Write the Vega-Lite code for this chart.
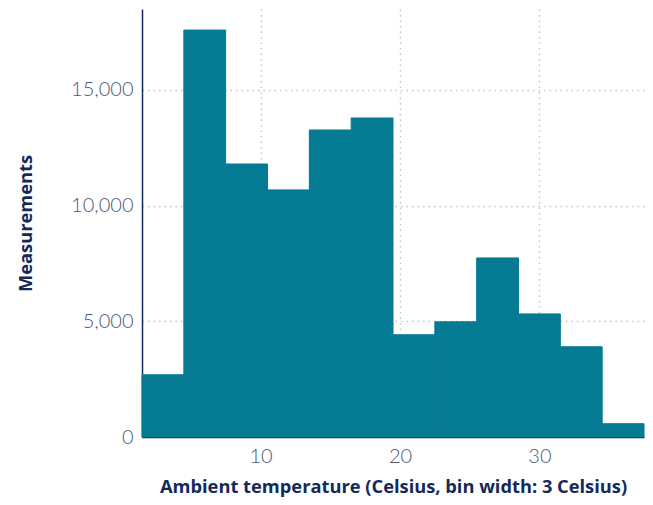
{
  "$schema": "https://vega.github.io/schema/vega-lite/v6.json",
  "width": 502,
  "height": 428,
  "autosize": {"type": "none"},
  "padding": {"left": 142, "top": 9, "right": 9, "bottom": 68},
  "background": "white",
  "data": {
    "values": [
      {"bin_start": 1.5, "bin_end": 4.5, "count": 2690},
      {"bin_start": 4.5, "bin_end": 7.5, "count": 17590},
      {"bin_start": 7.5, "bin_end": 10.5, "count": 11800},
      {"bin_start": 10.5, "bin_end": 13.5, "count": 10680},
      {"bin_start": 13.5, "bin_end": 16.5, "count": 13270},
      {"bin_start": 16.5, "bin_end": 19.5, "count": 13790},
      {"bin_start": 19.5, "bin_end": 22.5, "count": 4420},
      {"bin_start": 22.5, "bin_end": 25.5, "count": 4980},
      {"bin_start": 25.5, "bin_end": 28.5, "count": 7740},
      {"bin_start": 28.5, "bin_end": 31.5, "count": 5320},
      {"bin_start": 31.5, "bin_end": 34.5, "count": 3900},
      {"bin_start": 34.5, "bin_end": 37.5, "count": 575}
    ]
  },
  "mark": {"type": "rect", "color": "#057b93", "stroke": "#057b93", "strokeWidth": 1},
  "encoding": {
    "x": {
      "field": "bin_start",
      "type": "quantitative",
      "scale": {"domain": [1.5, 37.5], "nice": false, "zero": false},
      "axis": {
        "title": "Ambient temperature (Celsius, bin width: 3 Celsius)",
        "values": [10, 20, 30],
        "format": "d",
        "titlePadding": 12
      }
    },
    "x2": {"field": "bin_end"},
    "y": {
      "field": "count",
      "type": "quantitative",
      "scale": {"domain": [0, 18500], "nice": false},
      "axis": {
        "title": "Measurements",
        "values": [0, 5000, 10000, 15000],
        "format": ",.0f",
        "titlePadding": 35
      }
    }
  },
  "config": {
    "view": {"stroke": null},
    "axis": {
      "domain": true,
      "domainColor": "#14295a",
      "domainWidth": 1.5,
      "ticks": false,
      "grid": true,
      "gridColor": "#c4c4c4",
      "gridDash": [1.5, 4],
      "gridWidth": 1.5,
      "labelFont": "Lato",
      "labelFontWeight": 300,
      "labelFontSize": 20,
      "labelColor": "#4a5a7c",
      "labelPadding": 9,
      "titleFont": "Open Sans",
      "titleFontWeight": "bold",
      "titleFontSize": 18.3,
      "titleColor": "#14295a"
    }
  }
}
